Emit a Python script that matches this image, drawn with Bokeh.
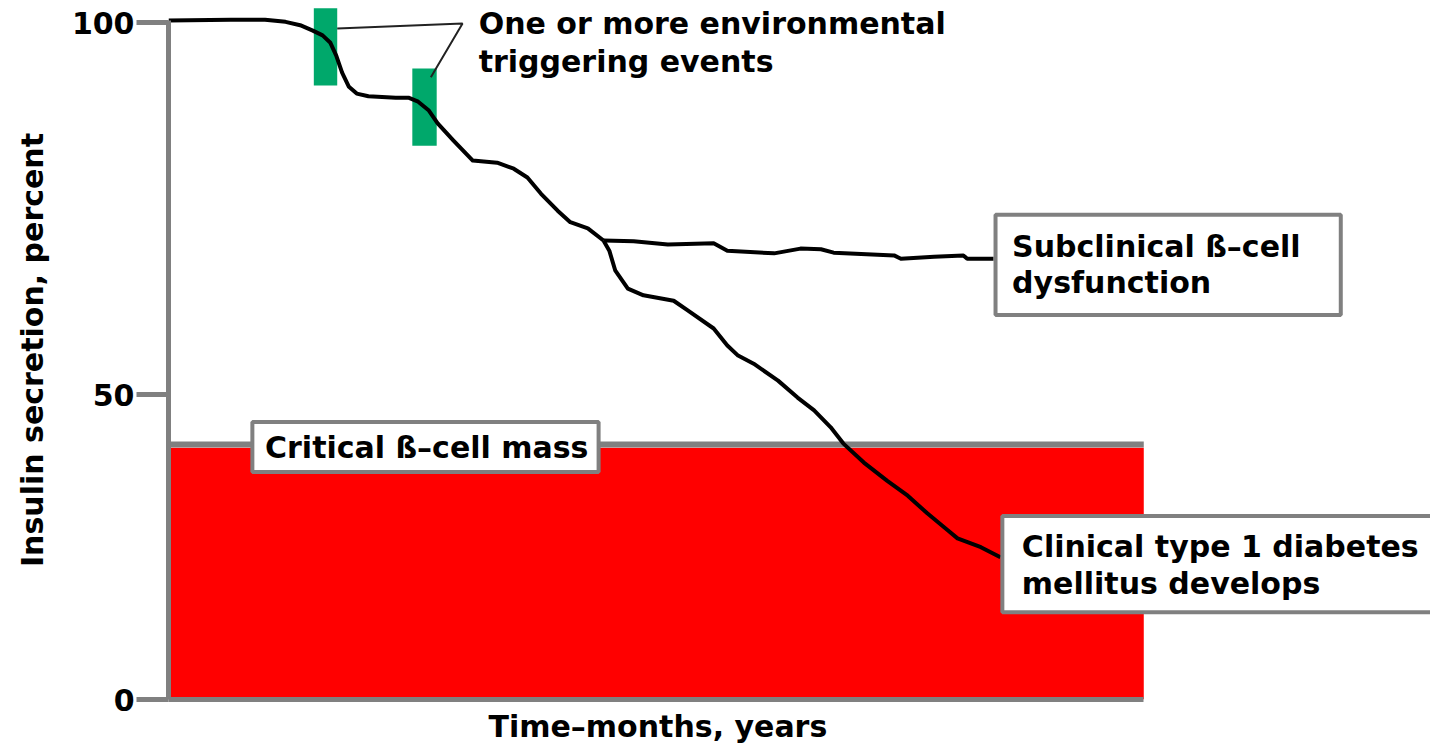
from bokeh.plotting import figure
from bokeh.models import Range1d, FixedTicker, ColumnDataSource, Title
from bokeh.core.properties import value
from bokeh.embed import file_html
from bokeh.resources import INLINE

# ---- data (time units 0..100 on x, insulin secretion on y) ----
common_x = [0.0, 6.4, 9.9, 12.0, 13.5, 14.8, 15.8, 16.6, 17.2, 17.8, 18.5, 19.3, 20.5, 23.3, 24.6,
            25.6, 26.7, 27.6, 29.2, 31.2, 33.7, 35.4, 36.8, 38.2, 39.9, 41.2, 43.0, 44.6]
common_y = [100.3, 100.4, 100.4, 100.1, 99.6, 98.8, 98.1, 97.0, 95.1, 92.6, 90.5, 89.5, 89.1, 88.9, 88.9,
            88.3, 87.0, 85.1, 82.6, 79.6, 79.3, 78.4, 77.1, 74.7, 72.2, 70.5, 69.6, 67.8]

clinical_x = [44.6, 45.2, 45.8, 47.1, 48.7, 51.8, 53.2, 55.9, 57.3, 58.4, 60.0, 62.5, 64.5, 66.2, 67.9,
              69.2, 71.3, 73.7, 75.8, 77.8, 79.9, 80.9, 83.3, 85.3]
clinical_y = [67.8, 66.3, 63.4, 60.7, 59.7, 58.9, 57.5, 54.8, 52.3, 50.8, 49.6, 47.1, 44.6, 42.7, 40.2,
              37.8, 35.0, 32.3, 30.1, 27.5, 25.0, 23.8, 22.5, 21.0]

subclinical_x = [44.6, 47.7, 51.2, 55.9, 57.3, 62.1, 64.8, 66.9, 68.2, 74.4, 75.1, 78.5, 81.5, 81.9, 84.6]
subclinical_y = [67.8, 67.7, 67.2, 67.4, 66.3, 65.9, 66.6, 66.5, 66.0, 65.6, 65.1, 65.4, 65.6, 65.1, 65.1]

critical_mass = 37.65
time_end = 100

trigger_left = [14.9, 25.0]
trigger_right = [17.3, 27.5]
trigger_bottom = [90.7, 81.8]
trigger_top = [102.1, 93.2]

callout_x = [17.3, 30.15, 26.9]
callout_y = [99.1, 99.85, 91.9]

y_ticks = [0, 45, 100]
y_tick_labels = {45: "50"}

box_left = [8.6, 84.8, 85.5]
box_right = [44.1, 120.2, 140.0]
box_bottom = [33.6, 56.8, 12.9]
box_top = [41.0, 71.6, 27.1]

label_text = ["One or more environmental", "triggering events", "Critical ß–cell mass",
              "Subclinical ß–cell", "dysfunction", "Clinical type 1 diabetes", "mellitus develops"]
label_x = [31.8, 31.8, 9.9, 86.5, 86.5, 87.5, 87.5]
label_y = [99.9, 94.2, 37.2, 66.9, 61.6, 22.6, 17.2]

x_title = "Time–months, years"
y_title = "Insulin secretion, percent"

FONT = value("DejaVu Sans")
FS = "30px"
GRAY = "#808080"

p = figure(width=1430, height=755, x_range=Range1d(0, 129.4), y_range=Range1d(0, 103.25),
           output_backend="svg", toolbar_location=None,
           min_border_left=168, min_border_right=0, min_border_top=0, min_border_bottom=56)
p.outline_line_color = None
p.xgrid.visible = False
p.ygrid.visible = False
p.background_fill_color = "white"

# axes
p.yaxis.ticker = FixedTicker(ticks=y_ticks)
p.yaxis.major_label_overrides = y_tick_labels
p.yaxis.bounds = (0, 100.3)
p.yaxis.axis_line_color = GRAY
p.yaxis.axis_line_width = 5
p.yaxis.major_tick_line_color = GRAY
p.yaxis.major_tick_line_width = 5
p.yaxis.major_tick_out = 32
p.yaxis.major_tick_in = 0
p.yaxis.minor_tick_line_color = None
p.yaxis.major_label_text_font = "DejaVu Sans"
p.yaxis.major_label_text_font_style = "bold"
p.yaxis.major_label_text_font_size = FS
p.yaxis.major_label_text_color = "black"
p.yaxis.major_label_standoff = 2
p.yaxis.axis_label = y_title
p.yaxis.axis_label_text_font = "DejaVu Sans"
p.yaxis.axis_label_text_font_style = "bold"
p.yaxis.axis_label_text_font_size = FS
p.yaxis.axis_label_text_color = "black"
p.yaxis.axis_label_standoff = 19

p.xaxis.ticker = FixedTicker(ticks=[])
p.xaxis.bounds = (0, time_end)
p.xaxis.axis_line_color = GRAY
p.xaxis.axis_line_width = 5
p.xaxis.major_tick_line_color = None
p.xaxis.minor_tick_line_color = None
p.xaxis.major_tick_out = 0

# x-axis title, centred under the time span
p.add_layout(Title(text=x_title, align="left", offset=320, vertical_align="top", standoff=18,
                   text_font="DejaVu Sans", text_font_style="bold", text_font_size=FS,
                   text_color="black"), "below")

# red region below critical mass
p.quad(left=[0], right=[time_end], bottom=[0], top=[critical_mass - 0.45], fill_color="#ff0000", line_color=None)
p.line([0, time_end], [critical_mass, critical_mass], line_color=GRAY, line_width=6)

# environmental triggers
p.quad(left=trigger_left, right=trigger_right, bottom=trigger_bottom, top=trigger_top,
       fill_color="#00a86b", line_color=None)

# curves
p.line(common_x, common_y, line_color="black", line_width=4, line_join="round")
p.line(clinical_x, clinical_y, line_color="black", line_width=4, line_join="round")
p.line(subclinical_x, subclinical_y, line_color="black", line_width=4, line_join="round")

# callout
p.line(callout_x, callout_y, line_color="#222222", line_width=2)

# annotation boxes
p.quad(left=box_left, right=box_right, bottom=box_bottom, top=box_top,
       fill_color="white", line_color=GRAY, line_width=4)

src = ColumnDataSource(dict(x=label_x, y=label_y, text=label_text))
p.text(x="x", y="y", text="text", source=src, text_font=FONT, text_font_style="bold",
       text_font_size=FS, text_color="black", text_align="left", text_baseline="alphabetic")

open("out.html", "w").write(file_html(p, INLINE))
